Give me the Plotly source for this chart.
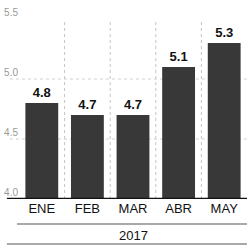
import plotly.graph_objects as go

categories = ["ENE", "FEB", "MAR", "ABR", "MAY"]
values = [4.8, 4.7, 4.7, 5.1, 5.3]
value_labels = ["4.8", "4.7", "4.7", "5.1", "5.3"]
year_label = "2017"
y_ticks = [4.0, 4.5, 5.0, 5.5]
y_tick_labels = ["4.0", "4.5", "5.0", "5.5"]
grid_values = [4.5, 5.0]

NARROW = "Liberation Sans Narrow, Arial Narrow, sans-serif"

fig = go.Figure()
fig.add_trace(go.Bar(
    x=categories, y=values,
    marker=dict(color="#383838", line=dict(width=0)),
    text=value_labels, textposition="outside",
    textfont=dict(family=NARROW, size=13, color="#111111", weight="bold"),
    cliponaxis=False, hoverinfo="skip",
))

shapes = []
for b in [0.5, 1.5, 2.5, 3.5]:
    shapes.append(dict(type="line", xref="x", yref="paper", x0=b, x1=b, y0=0, y1=1,
                       line=dict(color="#c4c4c4", width=1, dash="dot"), layer="below"))
for g in grid_values:
    shapes.append(dict(type="line", xref="paper", yref="y", x0=-0.04, x1=1, y0=g, y1=g,
                       line=dict(color="#d0d0d0", width=1, dash="dot"), layer="below"))
shapes.append(dict(type="line", xref="paper", yref="y", x0=-0.053, x1=1, y0=4.0, y1=4.0,
                   line=dict(color="#111111", width=2.5)))
shapes.append(dict(type="line", xref="paper", yref="paper", x0=-0.009, x1=1, y0=-0.139, y1=-0.139,
                   line=dict(color="#555555", width=1.2)))
shapes.append(dict(type="line", xref="paper", yref="paper", x0=-0.053, x1=1, y0=-0.25, y1=-0.25,
                   line=dict(color="#555555", width=1.2)))

fig.update_layout(
    width=247, height=248,
    margin=dict(l=19, r=0, t=19, b=49),
    paper_bgcolor="white", plot_bgcolor="white",
    bargap=0.28, showlegend=False,
    shapes=shapes,
    annotations=[dict(text=year_label, xref="paper", yref="paper", x=0.5, y=-0.2,
                      showarrow=False, font=dict(family=NARROW, size=13, color="#111111"),
                      xanchor="center", yanchor="middle")],
    xaxis=dict(showgrid=False, showline=False, ticks="",
               tickfont=dict(family=NARROW, size=13, color="#111111")),
    yaxis=dict(range=[4.0, 5.5], tickvals=y_ticks, ticktext=y_tick_labels,
               showgrid=False, zeroline=False, showline=False, ticks="",
               ticklabelposition="outside top",
               tickfont=dict(family=NARROW, size=10, color="#9a9a9a")),
)

fig.write_html("out.html", config={"displayModeBar": False},
               post_script="document.body.style.margin='0';document.body.style.padding='0';")
